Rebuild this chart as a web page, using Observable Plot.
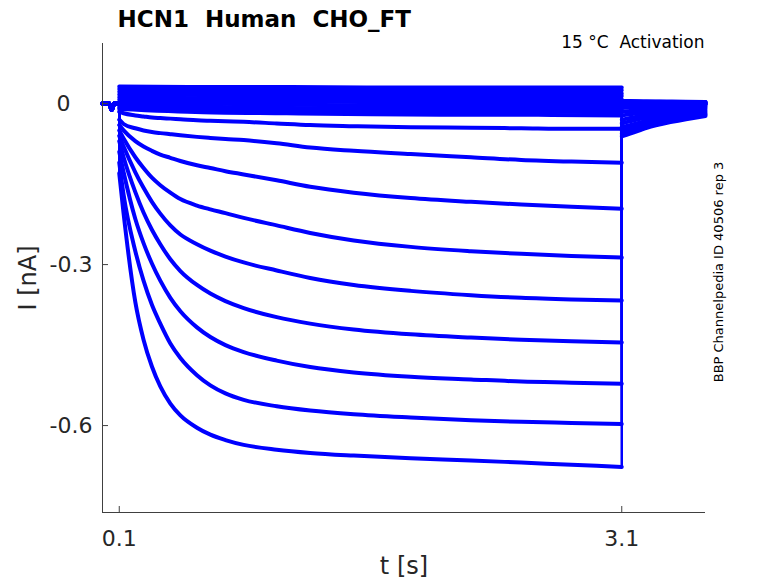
<!DOCTYPE html>
<html>
<head>
<meta charset="utf-8">
<script src="https://cdn.jsdelivr.net/npm/d3@7"></script>
<script src="https://cdn.jsdelivr.net/npm/@observablehq/plot@0.6"></script>
<style>
  html, body { margin: 0; padding: 0; background: #fff; }
  svg text { white-space: pre; }
</style>
</head>
<body>
<div id="chart"></div>
<script>
// ---- axis domains & ticks ----
const xDomain = [0, 3.6];
const yDomain = [-0.762, 0.112];
const xTicks = [0.1, 3.1];
const xTickLabels = ["0.1", "3.1"];
const yTicksMain = [-0.3, -0.6];
const yTickLabelsMain = ["-0.3", "-0.6"];
const yTickZero = [0];
const yTickZeroLabel = ["0"];

// ---- time bases (s) ----
const preT  = [0, 0.04, 0.055, 0.07, 0.1];
const preI  = [0, 0, -0.012, 0, 0];
const stepT = [0.1, 0.126, 0.196, 0.245, 0.295, 0.345, 0.405, 0.465, 0.564, 0.644, 0.734, 0.843, 1.04, 1.24, 1.5, 1.84, 2.2, 2.5, 2.8, 3.1];
const bandT = [0.1, 0.6, 1.1, 1.6, 2.1, 2.6, 3.1];
const tailT = [3.1, 3.15, 3.25, 3.4, 3.6];

// ---- near-zero traces during the step (nA) ----
const band1  = [0.032, 0.031, 0.031, 0.030, 0.030, 0.030, 0.030];
const band2  = [0.027, 0.026, 0.025, 0.025, 0.025, 0.025, 0.025];
const band3  = [0.022, 0.021, 0.020, 0.020, 0.020, 0.019, 0.019];
const band4  = [0.017, 0.016, 0.015, 0.014, 0.014, 0.014, 0.014];
const band5  = [0.012, 0.010, 0.009, 0.009, 0.008, 0.008, 0.008];
const band6  = [0.007, 0.005, 0.004, 0.003, 0.003, 0.002, 0.002];
const band7  = [0.002, 0.000, -0.002, -0.003, -0.003, -0.004, -0.004];
const band8  = [-0.003, -0.006, -0.008, -0.009, -0.010, -0.010, -0.010];
const band9  = [-0.007, -0.011, -0.013, -0.014, -0.015, -0.015, -0.016];
const band10 = [-0.010, -0.016, -0.018, -0.020, -0.021, -0.021, -0.022];
const bandTail1  = [0.005, 0.005, 0.004, 0.004, 0.003];
const bandTail2  = [0.004, 0.004, 0.004, 0.003, 0.003];
const bandTail3  = [0.003, 0.003, 0.003, 0.003, 0.002];
const bandTail4  = [0.002, 0.002, 0.002, 0.002, 0.002];
const bandTail5  = [0.001, 0.001, 0.001, 0.001, 0.001];
const bandTail6  = [0.000, 0.000, 0.000, 0.000, 0.000];
const bandTail7  = [-0.001, -0.001, -0.001, -0.001, 0.000];
const bandTail8  = [-0.002, -0.002, -0.002, -0.001, -0.001];
const bandTail9  = [-0.003, -0.003, -0.002, -0.002, -0.001];
const bandTail10 = [-0.005, -0.004, -0.004, -0.003, -0.002];

// ---- activating traces during the step (nA), top to bottom ----
const stepA = [-0.015, -0.018, -0.022, -0.024, -0.026, -0.027, -0.028, -0.029, -0.031, -0.032, -0.033, -0.034, -0.037, -0.040, -0.042, -0.044, -0.045, -0.046, -0.047, -0.047];
const stepB = [-0.030, -0.038, -0.046, -0.050, -0.053, -0.055, -0.057, -0.059, -0.062, -0.064, -0.066, -0.068, -0.074, -0.082, -0.088, -0.094, -0.100, -0.105, -0.108, -0.110];
const stepC = [-0.040, -0.050, -0.070, -0.080, -0.088, -0.095, -0.101, -0.107, -0.115, -0.120, -0.126, -0.132, -0.143, -0.155, -0.166, -0.176, -0.183, -0.188, -0.192, -0.196];
const stepD = [-0.050, -0.065, -0.100, -0.120, -0.138, -0.152, -0.166, -0.178, -0.190, -0.197, -0.204, -0.213, -0.227, -0.241, -0.255, -0.267, -0.275, -0.280, -0.284, -0.287];
const stepE = [-0.060, -0.080, -0.128, -0.157, -0.183, -0.205, -0.227, -0.244, -0.262, -0.274, -0.285, -0.296, -0.311, -0.325, -0.338, -0.349, -0.357, -0.362, -0.365, -0.367];
const stepF = [-0.070, -0.100, -0.165, -0.203, -0.235, -0.262, -0.290, -0.312, -0.338, -0.354, -0.368, -0.381, -0.398, -0.410, -0.421, -0.430, -0.436, -0.440, -0.443, -0.445];
const stepG = [-0.090, -0.128, -0.215, -0.260, -0.298, -0.330, -0.362, -0.387, -0.417, -0.435, -0.450, -0.463, -0.479, -0.491, -0.501, -0.509, -0.514, -0.518, -0.520, -0.522];
const stepH = [-0.110, -0.170, -0.275, -0.330, -0.375, -0.410, -0.447, -0.474, -0.506, -0.525, -0.540, -0.552, -0.564, -0.572, -0.579, -0.585, -0.590, -0.593, -0.595, -0.597];
const stepI = [-0.130, -0.205, -0.370, -0.440, -0.490, -0.527, -0.559, -0.581, -0.604, -0.617, -0.627, -0.636, -0.645, -0.651, -0.656, -0.661, -0.665, -0.669, -0.673, -0.677];
const tailA = [-0.008, -0.007, -0.006, -0.004, -0.002];
const tailB = [-0.015, -0.014, -0.011, -0.008, -0.005];
const tailC = [-0.022, -0.020, -0.016, -0.011, -0.007];
const tailD = [-0.030, -0.027, -0.021, -0.015, -0.010];
const tailE = [-0.037, -0.033, -0.026, -0.019, -0.013];
const tailF = [-0.044, -0.040, -0.032, -0.024, -0.016];
const tailG = [-0.050, -0.046, -0.037, -0.028, -0.019];
const tailH = [-0.056, -0.051, -0.041, -0.031, -0.021];
const tailI = [-0.061, -0.056, -0.045, -0.034, -0.023];

// ---- assemble rows: smooth segments + vertical jumps at step edges ----
const traces = [
  ["b1", bandT, band1, bandTail1], ["b2", bandT, band2, bandTail2], ["b3", bandT, band3, bandTail3],
  ["b4", bandT, band4, bandTail4], ["b5", bandT, band5, bandTail5], ["b6", bandT, band6, bandTail6],
  ["b7", bandT, band7, bandTail7], ["b8", bandT, band8, bandTail8], ["b9", bandT, band9, bandTail9],
  ["b10", bandT, band10, bandTail10],
  ["A", stepT, stepA, tailA], ["B", stepT, stepB, tailB], ["C", stepT, stepC, tailC],
  ["D", stepT, stepD, tailD], ["E", stepT, stepE, tailE], ["F", stepT, stepF, tailF],
  ["G", stepT, stepG, tailG], ["H", stepT, stepH, tailH], ["I", stepT, stepI, tailI]
];
const rows = [];
const jumps = [];
for (const [id, sT, sV, tV] of traces) {
  preT.forEach((t, i) => rows.push({seg: id + "-pre", t, I: preI[i]}));
  sT.forEach((t, i) => rows.push({seg: id + "-step", t, I: sV[i]}));
  tailT.forEach((t, i) => rows.push({seg: id + "-tail", t, I: tV[i]}));
  jumps.push({seg: id + "-on", t: preT[preT.length - 1], I: preI[preI.length - 1]});
  jumps.push({seg: id + "-on", t: sT[0], I: sV[0]});
  jumps.push({seg: id + "-off", t: sT[sT.length - 1], I: sV[sV.length - 1]});
  jumps.push({seg: id + "-off", t: tailT[0], I: tV[0]});
}

const axisColor = "#404040";
const labelColor = "#262626";
const font = "DejaVu Sans";
const frameW = 778 - 102 - 73;
const frameH = 583 - 43 - 71;
const traceStyle = {x: "t", y: "I", z: "seg", stroke: "#0000ff", strokeWidth: 4, strokeLinejoin: "round", strokeLinecap: "round"};

const chart = Plot.plot({
  width: 778,
  height: 583,
  marginLeft: 102,
  marginRight: 73,
  marginTop: 43,
  marginBottom: 71,
  style: {fontFamily: font, background: "#fff"},
  x: {domain: xDomain, axis: null},
  y: {domain: yDomain, axis: null},
  marks: [
    Plot.line(rows, {...traceStyle, curve: "monotone-x"}),
    Plot.line(jumps, {...traceStyle, strokeWidth: 2.5, curve: "linear"}),
    // axis lines
    Plot.ruleX([xDomain[0]], {stroke: axisColor, strokeWidth: 1}),
    Plot.ruleY([yDomain[0]], {stroke: axisColor, strokeWidth: 1}),
    // inward ticks
    Plot.tickX(xTicks, {x: d => d, stroke: axisColor, insetTop: frameH - 6}),
    Plot.tickY([...yTickZero, ...yTicksMain], {y: d => d, stroke: axisColor, insetRight: frameW - 6}),
    // tick labels
    Plot.text(xTicks, {x: d => d, text: (d, i) => xTickLabels[i], frameAnchor: "bottom", dy: 33, textAnchor: "middle", lineAnchor: "bottom", fontSize: 22, fill: labelColor, fontFamily: font}),
    Plot.text(yTicksMain, {y: d => d, text: (d, i) => yTickLabelsMain[i], frameAnchor: "left", dx: -10, textAnchor: "end", lineAnchor: "middle", fontSize: 22, fill: labelColor, fontFamily: font}),
    Plot.text(yTickZero, {y: d => d, text: (d, i) => yTickZeroLabel[i], frameAnchor: "left", dx: -32, textAnchor: "end", lineAnchor: "middle", fontSize: 22, fill: labelColor, fontFamily: font}),
    // axis labels
    Plot.text(["t [s]"], {text: d => d, frameAnchor: "bottom", dy: 61, textAnchor: "middle", lineAnchor: "bottom", fontSize: 24, fill: labelColor, fontFamily: font}),
    Plot.text(["I [nA]"], {text: d => d, frameAnchor: "left", dx: -67, rotate: -90, textAnchor: "middle", lineAnchor: "bottom", fontSize: 24, fill: labelColor, fontFamily: font}),
    // title & annotations
    Plot.text(["HCN1  Human  CHO_FT"], {text: d => d, frameAnchor: "top-left", dx: 15, dy: -17, textAnchor: "start", lineAnchor: "bottom", fontSize: 23, fontWeight: "bold", fill: "#000", fontFamily: font}),
    Plot.text(["15 °C  Activation"], {text: d => d, frameAnchor: "top-right", dx: -1, dy: 4, textAnchor: "end", lineAnchor: "bottom", fontSize: 17, fill: "#000", fontFamily: font}),
    Plot.text(["BBP Channelpedia ID 40506 rep 3"], {text: d => d, frameAnchor: "right", dx: 17, dy: -6, rotate: -90, textAnchor: "middle", lineAnchor: "bottom", fontSize: 13, fill: "#000", fontFamily: font})
  ]
});
document.getElementById("chart").appendChild(chart);
</script>
</body>
</html>
